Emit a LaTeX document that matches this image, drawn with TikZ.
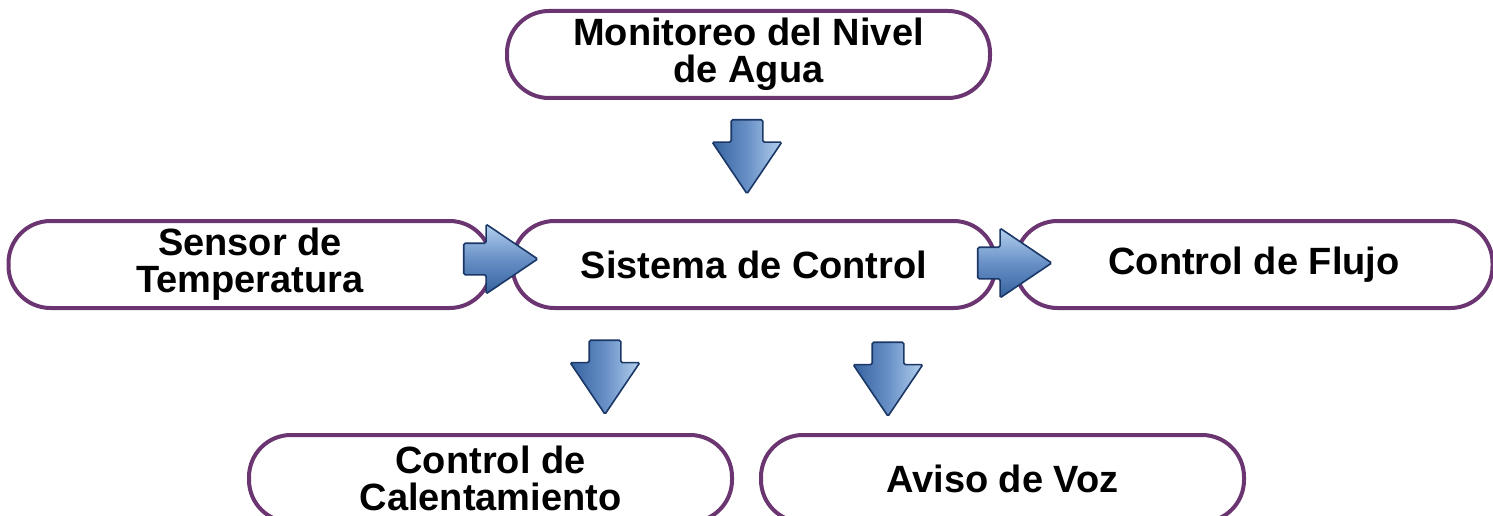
\documentclass[tikz,border=0pt]{standalone}
\usepackage{fontspec}
\setmainfont{Liberation Sans}
\usetikzlibrary{positioning,shapes.arrows,calc}
\definecolor{boxline}{HTML}{6A3570}
\definecolor{arrline}{HTML}{1B3766}
\definecolor{arrdark}{HTML}{35629F}
\definecolor{arrmid}{HTML}{6890C6}
\definecolor{arrlight}{HTML}{B3D0EE}
\tikzset{
  box/.style={draw=boxline, line width=4pt, rounded corners=42pt, align=center,
              font=\fontsize{38}{37}\selectfont\bfseries, outer sep=0pt,
              minimum width=483pt, minimum height=87pt, inner sep=0pt},
  blockarr/.style={single arrow, draw=arrline, line width=1.6pt, inner sep=15pt,
              single arrow head extend=19pt, single arrow tip angle=68,
              minimum height=74pt, rounded corners=1.5pt},
  downarr/.style={blockarr, shape border rotate=270,
              left color=arrdark, right color=arrlight, middle color=arrmid},
  rightarr/.style={blockarr, top color=arrlight, bottom color=arrdark,
              middle color=arrmid},
}

\begin{document}
\begin{tikzpicture}[x=1pt, y=-1pt, node distance=20pt]
    \useasboundingbox (0,0) rectangle (1493,516);
    % boxes
    \node[box] (sistema) at (754,264.5) {Sistema de Control};
    \node[box, left=21pt of sistema] (sensor) {Sensor de\\Temperatura};
    \node[box, right=20pt of sistema, minimum width=477pt] (flujo) {Control de Flujo};
    \node[box, above=123pt of sistema, xshift=-5.5pt] (nivel) {Monitoreo del Nivel\\de Agua};
    \node[box, below=127pt of sistema, xshift=-263.5pt] (calent) {Control de\\Calentamiento};
    \node[box, right=29pt of calent] (aviso) {Aviso de Voz};
    % block arrows
    \node[downarr] (nivsis) at (747,145) {};
    \node[rightarr] (sensis) at (489,259) {};
    \node[rightarr] (sisflu) at (1003,263) {};
    \node[downarr] (siscal) at (605,365.5) {};
    \node[downarr] (sisavi) at (888,367.5) {};
\end{tikzpicture}
\end{document}
